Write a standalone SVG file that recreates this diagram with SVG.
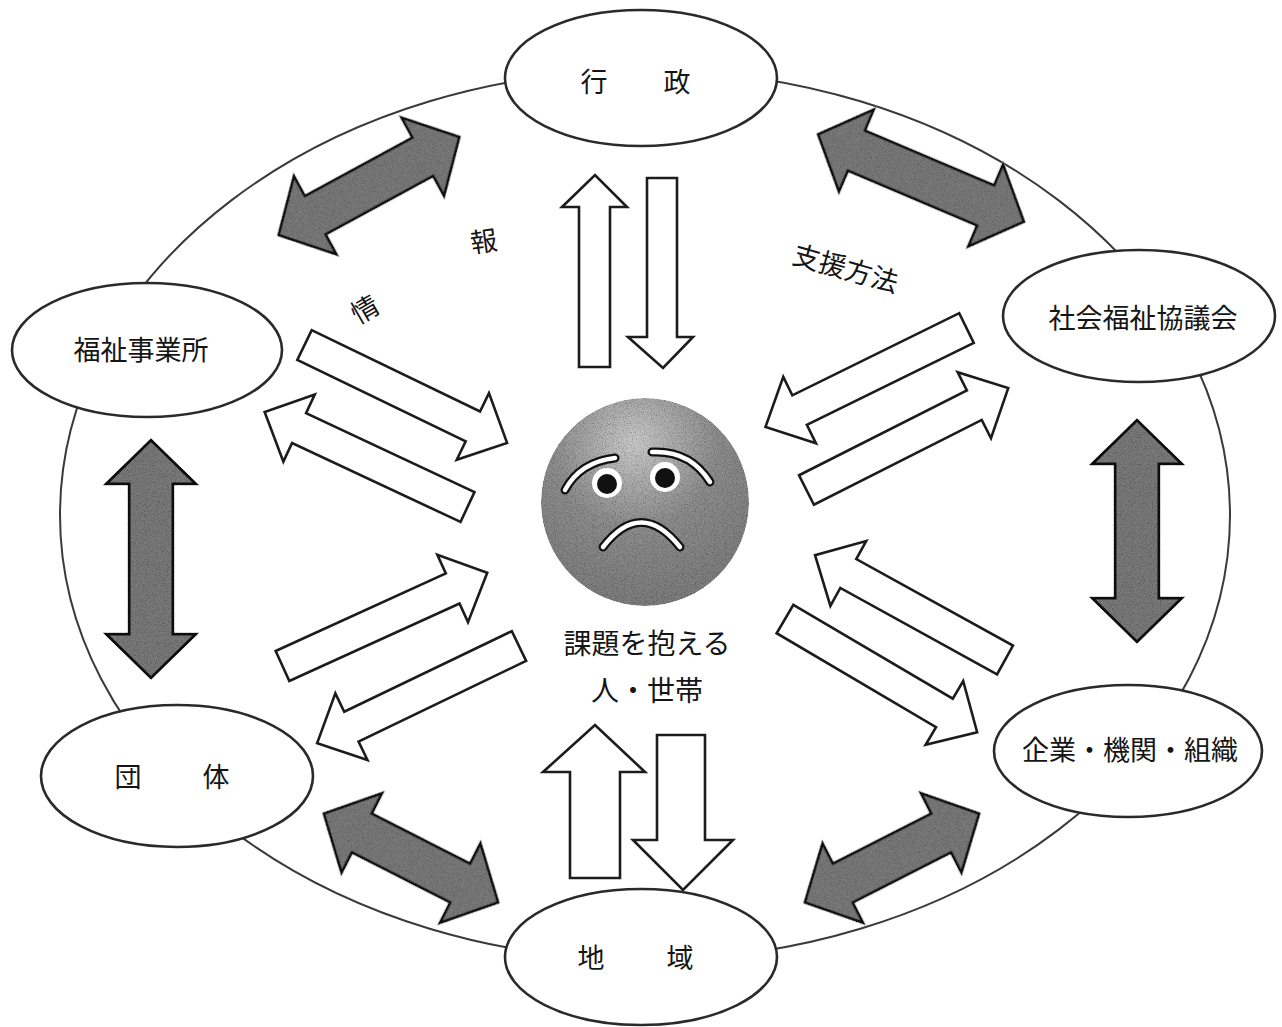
<svg xmlns="http://www.w3.org/2000/svg" width="1282" height="1027" viewBox="0 0 1282 1027">
  <style>
    .ring { fill: none; stroke: #3a3a3a; stroke-width: 2; }
    .node { fill: #ffffff; stroke: #2a2a2a; stroke-width: 2.6; }
    .label { font-family: "Noto Sans CJK JP", "Noto Sans", sans-serif; font-size: 27px; fill: #151515; text-anchor: middle; }
    .note { font-family: "Noto Sans CJK JP", "Noto Sans", sans-serif; font-size: 27px; fill: #151515; }
    .flow { fill: #ffffff; stroke: #1c1c1c; stroke-width: 2.6; stroke-linejoin: miter; }
    .link { fill: #7a7a7a; stroke: #111; stroke-width: 3; stroke-linejoin: miter; filter: url(#grain); }
    .brow { fill: none; stroke: #111; stroke-width: 9; stroke-linecap: round; }
    .brow-in { fill: none; stroke: #fff; stroke-width: 4.5; stroke-linecap: round; }
  </style>
  <defs>
    <filter id="grain" x="-5%" y="-5%" width="110%" height="110%">
      <feTurbulence type="fractalNoise" baseFrequency="0.9" numOctaves="2" seed="4" result="n"/>
      <feColorMatrix in="n" type="matrix" values="1.3 0 0 0 0.25  1.3 0 0 0 0.25  1.3 0 0 0 0.25  0 0 0 0 1" result="g"/>
      <feBlend in="SourceGraphic" in2="g" mode="multiply" result="m"/>
      <feComposite in="m" in2="SourceAlpha" operator="in"/>
    </filter>
    <radialGradient id="faceShade" cx="0.45" cy="0.22" r="0.8">
      <stop offset="0" stop-color="#cccccc"/>
      <stop offset="0.5" stop-color="#8e8e8e"/>
      <stop offset="1" stop-color="#7c7c7c"/>
    </radialGradient>
  </defs>

  <rect width="1282" height="1027" fill="#ffffff"/>

  <!-- outer ring joining all partners -->
  <ellipse class="ring" cx="645" cy="515" rx="585" ry="445"/>

  <g id="connectors">
    <!-- two-way links between neighbouring partners -->
    <polygon class="link" transform="translate(369,186) rotate(-28.5)" points="-103,0 -61,-45 -61,-22 61,-22 61,-45 103,0 61,45 61,22 -61,22 -61,45"/>
    <polygon class="link" transform="translate(921,178) rotate(23)" points="-112,0 -70,-45 -70,-22 70,-22 70,-45 112,0 70,45 70,22 -70,22 -70,45"/>
    <polygon class="link" transform="translate(151,559) rotate(90)" points="-119,0 -75,-45 -75,-22 75,-22 75,-45 119,0 75,45 75,22 -75,22 -75,45"/>
    <polygon class="link" transform="translate(1137,531) rotate(90)" points="-111,0 -67,-45 -67,-22 67,-22 67,-45 111,0 67,45 67,22 -67,22 -67,45"/>
    <polygon class="link" transform="translate(411,858) rotate(27)" points="-98,0 -55,-45 -55,-22 55,-22 55,-45 98,0 55,45 55,22 -55,22 -55,45"/>
    <polygon class="link" transform="translate(892,858) rotate(-27)" points="-98,0 -55,-45 -55,-22 55,-22 55,-45 98,0 55,45 55,22 -55,22 -55,45"/>

    <!-- flows to and from the household -->
    <polygon class="flow" transform="translate(304.5,345) rotate(25.8)" points="0,-16.5 187,-16.5 187,-37 225,0 187,37 187,16.5 0,16.5"/>
    <polygon class="flow" transform="translate(467.5,507) rotate(205.1)" points="0,-16.5 186,-16.5 186,-37 224,0 186,37 186,16.5 0,16.5"/>
    <polygon class="flow" transform="translate(966.5,328) rotate(153.8)" points="0,-16.5 186,-16.5 186,-37 224,0 186,37 186,16.5 0,16.5"/>
    <polygon class="flow" transform="translate(806.5,490) rotate(-26.8)" points="0,-16.5 188,-16.5 188,-37 226,0 188,37 188,16.5 0,16.5"/>
    <polygon class="flow" transform="translate(282.5,666) rotate(-24.5)" points="0,-16.5 187,-16.5 187,-37 225,0 187,37 187,16.5 0,16.5"/>
    <polygon class="flow" transform="translate(519,646) rotate(154.3)" points="0,-16.5 186,-16.5 186,-37 224,0 186,37 186,16.5 0,16.5"/>
    <polygon class="flow" transform="translate(1005,660) rotate(208.9)" points="0,-16.5 179,-16.5 179,-37 217,0 179,37 179,16.5 0,16.5"/>
    <polygon class="flow" transform="translate(785,619) rotate(30.5)" points="0,-16.5 185,-16.5 185,-37 223,0 185,37 185,16.5 0,16.5"/>

    <polygon class="flow" points="579,367 579,207 562,207 595,175 627,207 610,207 610,367"/>
    <polygon class="flow" points="647,178 677,178 677,337 693,337 663,368 628,337 647,337"/>
    <polygon class="flow" points="570,878 570,772 543,772 595,725 645,772 620,772 620,878"/>
    <polygon class="flow" points="657,735 705,735 705,840 733,840 683,890 633,840 657,840"/>
  </g>

  <!-- flow captions -->
  <text class="note" transform="translate(370,318) rotate(-30)" text-anchor="middle">情</text>
  <text class="note" transform="translate(485,251) rotate(-8)" text-anchor="middle">報</text>
  <text class="note" transform="translate(843,278) rotate(16)" text-anchor="middle">支援方法</text>

  <g id="node-gyosei">
    <ellipse class="node" cx="641" cy="78" rx="136" ry="68"/>
    <text class="label" x="594 677" y="92">行政</text>
  </g>

  <g id="node-shakyo">
    <ellipse class="node" cx="1139" cy="316" rx="136" ry="66"/>
    <text class="label" x="1143" y="328">社会福祉協議会</text>
  </g>

  <g id="node-kigyo">
    <ellipse class="node" cx="1128" cy="751" rx="134" ry="66"/>
    <text class="label" x="1130" y="760">企業・機関・組織</text>
  </g>

  <g id="node-chiiki">
    <ellipse class="node" cx="641" cy="957" rx="136" ry="68"/>
    <text class="label" x="591 680" y="968">地域</text>
  </g>

  <g id="node-dantai">
    <ellipse class="node" cx="177" cy="776" rx="136" ry="71"/>
    <text class="label" x="128 216" y="787">団体</text>
  </g>

  <g id="node-jigyosho">
    <ellipse class="node" cx="147" cy="350" rx="135" ry="67"/>
    <text class="label" x="141" y="360">福祉事業所</text>
  </g>

  <g id="node-household">
    <circle cx="645" cy="502" r="104" fill="url(#faceShade)" filter="url(#grain)"/>
    <path class="brow" d="M565,490 Q580,462 615,458"/>
    <path class="brow-in" d="M565,490 Q580,462 615,458"/>
    <path class="brow" d="M652,452 Q690,450 710,482"/>
    <path class="brow-in" d="M652,452 Q690,450 710,482"/>
    <circle cx="607" cy="483" r="15" fill="#ffffff"/>
    <circle cx="607" cy="484" r="10" fill="#111"/>
    <circle cx="665" cy="477" r="15" fill="#ffffff"/>
    <circle cx="665" cy="478" r="10" fill="#111"/>
    <path class="brow" d="M603,547 Q641,498 680,547"/>
    <path class="brow-in" d="M603,547 Q641,498 680,547"/>
    <text class="label" x="647" y="654" style="font-size:28px">課題を抱える</text>
    <text class="label" x="647" y="701" style="font-size:28px">人・世帯</text>
  </g>
</svg>
